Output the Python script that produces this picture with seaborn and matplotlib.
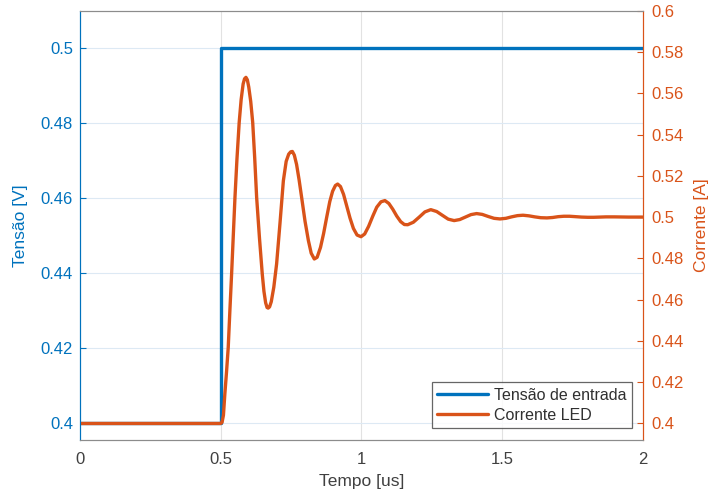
"""Step response: input voltage step and LED current (dual y-axis)."""
import matplotlib
matplotlib.use("Agg")
import matplotlib.pyplot as plt
import seaborn as sns

# --- data ------------------------------------------------------------------
tensao_t = [0.0, 0.5, 0.5, 2.0]
tensao_v = [0.4, 0.4, 0.5, 0.5]

corrente_t = [
    0.0, 0.5, 0.505, 0.510, 0.515, 0.521, 0.527, 0.533, 0.539, 0.545,
    0.551, 0.558, 0.566, 0.573, 0.580, 0.585, 0.590, 0.595, 0.600, 0.607,
    0.614, 0.621, 0.628, 0.638, 0.648, 0.654, 0.660, 0.665, 0.669, 0.674,
    0.680, 0.689, 0.699, 0.711, 0.723, 0.733, 0.742, 0.749, 0.755, 0.762,
    0.770, 0.779, 0.788, 0.800, 0.812, 0.822, 0.833, 0.843, 0.855, 0.866,
    0.877, 0.888, 0.898, 0.908, 0.916, 0.926, 0.937, 0.948, 0.960, 0.972,
    0.985, 0.999, 1.012, 1.026, 1.041, 1.055, 1.070, 1.084, 1.098, 1.112,
    1.126, 1.140, 1.153, 1.165, 1.185, 1.206, 1.226, 1.247, 1.268, 1.289,
    1.309, 1.330, 1.350, 1.370, 1.390, 1.410, 1.430, 1.451, 1.472, 1.493,
    1.514, 1.534, 1.555, 1.575, 1.596, 1.617, 1.638, 1.660, 1.680, 1.700,
    1.720, 1.740, 1.762, 1.783, 1.805, 1.826, 1.848, 1.870, 1.900, 1.950,
    2.0,
]
corrente_a = [
    0.4000, 0.4000, 0.4005, 0.4040, 0.4143, 0.4250, 0.4368, 0.4550, 0.4724, 0.4910,
    0.5096, 0.5280, 0.5459, 0.5570, 0.5645, 0.5670, 0.5677, 0.5665, 0.5630, 0.5560,
    0.5459, 0.5290, 0.5096, 0.4900, 0.4724, 0.4640, 0.4585, 0.4562, 0.4559, 0.4565,
    0.4590, 0.4660, 0.4773, 0.4970, 0.5176, 0.5270, 0.5305, 0.5316, 0.5318, 0.5300,
    0.5255, 0.5180, 0.5095, 0.4980, 0.4886, 0.4825, 0.4797, 0.4805, 0.4853, 0.4920,
    0.4999, 0.5075, 0.5125, 0.5153, 0.5160, 0.5148, 0.5110, 0.5055, 0.4995, 0.4945,
    0.4913, 0.4905, 0.4918, 0.4955, 0.5005, 0.5048, 0.5074, 0.5080, 0.5066, 0.5038,
    0.5005, 0.4978, 0.4964, 0.4963, 0.4975, 0.5000, 0.5025, 0.5036, 0.5027, 0.5008,
    0.4990, 0.4983, 0.4988, 0.5000, 0.5012, 0.5017, 0.5013, 0.5003, 0.4994, 0.4991,
    0.4994, 0.5001, 0.5007, 0.5009, 0.5006, 0.5001, 0.4997, 0.4996, 0.4998, 0.5002,
    0.5004, 0.5004, 0.5002, 0.5000, 0.4999, 0.4999, 0.5000, 0.5001, 0.5001, 0.5000,
    0.5000,
]

x_ticks = [0, 0.5, 1, 1.5, 2]
x_ticklabels = ["0", "0.5", "1", "1.5", "2"]
left_ticks = [0.4, 0.42, 0.44, 0.46, 0.48, 0.5]
left_ticklabels = ["0.4", "0.42", "0.44", "0.46", "0.48", "0.5"]
right_ticks = [0.4, 0.42, 0.44, 0.46, 0.48, 0.5, 0.52, 0.54, 0.56, 0.58, 0.6]
right_ticklabels = ["0.4", "0.42", "0.44", "0.46", "0.48", "0.5",
                    "0.52", "0.54", "0.56", "0.58", "0.6"]

BLUE = "#0072BD"
ORANGE = "#D95319"
DARK = "#404040"

sns.set_style("white")
plt.rcParams["font.family"] = ["Liberation Sans", "DejaVu Sans"]
plt.rcParams["font.size"] = 12

fig = plt.figure(figsize=(7.14, 4.97), dpi=100)
ax = fig.add_axes([0.112, 0.1147, 0.788, 0.8638])
ax2 = ax.twinx()

sns.lineplot(x=tensao_t, y=tensao_v, ax=ax, color=BLUE, lw=2.4,
             estimator=None, sort=False, label="Tensão de entrada", legend=False)
sns.lineplot(x=corrente_t, y=corrente_a, ax=ax2, color=ORANGE, lw=2.4,
             estimator=None, sort=False, label="Corrente LED", legend=False)

ax.set_xlim(0, 2)
ax.set_ylim(0.3955, 0.51)
ax2.set_ylim(0.392, 0.6)

ax.set_xticks(x_ticks, x_ticklabels)
ax.set_yticks(left_ticks, left_ticklabels)
ax2.set_yticks(right_ticks, right_ticklabels)

# grid (MATLAB-like, very light)
for xv in x_ticks[1:-1]:
    ax.axvline(xv, color="#e2e2e2", lw=0.8, zorder=0)
for yv in left_ticks:
    ax.axhline(yv, color="#dde9f4", lw=0.8, zorder=0)

ax.tick_params(axis="x", direction="in", length=4, colors="#808080",
               labelcolor=DARK, labelsize=12, pad=9)
ax.tick_params(axis="y", direction="in", length=4, colors=BLUE,
               labelcolor=BLUE, labelsize=12, pad=5)
ax2.tick_params(axis="y", direction="in", length=4, colors=ORANGE,
                labelcolor=ORANGE, labelsize=12, pad=6)

for a in (ax, ax2):
    a.spines["top"].set_color("#8c8c8c")
    a.spines["bottom"].set_color("#8c8c8c")
    a.spines["left"].set_color(BLUE)
    a.spines["right"].set_color(ORANGE)

ax.set_xlabel("Tempo [us]", color=DARK, fontsize=12.5, labelpad=5)
ax.set_ylabel("Tensão [V]", color=BLUE, fontsize=12.5, labelpad=9)
ax2.set_ylabel("Corrente [A]", color=ORANGE, fontsize=12.5, rotation=90,
               labelpad=8)

h1, l1 = ax.get_legend_handles_labels()
h2, l2 = ax2.get_legend_handles_labels()
leg = ax2.legend(h1 + h2, l1 + l2, loc="lower right", fontsize=11.5,
                 frameon=True, fancybox=False, edgecolor="#404040",
                 borderpad=0.35, handlelength=3.2, handletextpad=0.35,
                 labelspacing=0.3, borderaxespad=0,
                 bbox_to_anchor=(0.981, 0.027))
leg.get_frame().set_linewidth(0.9)
for txt in leg.get_texts():
    txt.set_color("#303030")

fig.savefig("out.png", dpi=100)
plt.close(fig)
